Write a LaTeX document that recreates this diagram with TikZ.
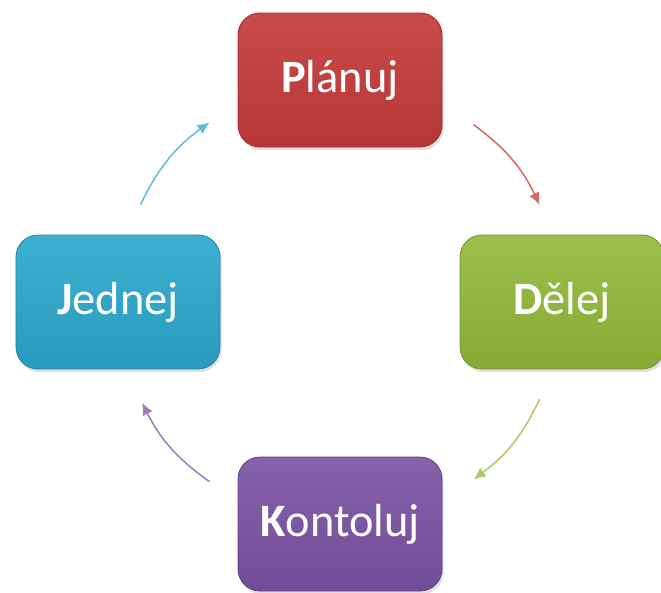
\documentclass[tikz,border=0pt]{standalone}
\usepackage{fontspec}
\setmainfont{Carlito}
\usetikzlibrary{shapes, arrows, arrows.meta, positioning, shadows}

\definecolor{pred}{RGB}{198,58,58}
\definecolor{pgreen}{RGB}{146,186,58}
\definecolor{ppurple}{RGB}{124,84,164}
\definecolor{pcyan}{RGB}{44,168,204}

\tikzset{
	krok/.style={rounded corners=0.55cm, minimum width=5.1cm, minimum height=3.35cm,
		text=white, draw=#1!80!black, line width=0.6pt,
		top color=#1!92!white, bottom color=#1!92!black,
		drop shadow={shadow xshift=0.04cm, shadow yshift=-0.08cm, opacity=0.25}},
	sipka/.style={->, draw=#1!75!white, line width=1.1pt}
}

\begin{document}
\begin{tikzpicture}[font=\fontsize{33}{38}\selectfont, >={Latex[length=3mm, width=2.8mm]}]
	\useasboundingbox (-8.5,7.55) rectangle (8.025,-7.25);
	% four boxes on a circle
	\foreach \A/\C/\T in { 90/pred/{\textbf{P}lánuj},
						    0/pgreen/{\textbf{D}ělej},
						  270/ppurple/{\textbf{K}ontoluj},
						  180/pcyan/{\textbf{J}ednej}
		} {
		\node[krok=\C](krok\A) at (\A:5.55cm) {\T};
		}
	% arrow ends
	\coordinate (c1) at (154:5.55cm);
	\coordinate (c2) at (126:5.55cm);
	\coordinate (r1) at (53:5.55cm);
	\coordinate (r2) at (26:5.55cm);
	\coordinate (g1) at (-26:5.55cm);
	\coordinate (g2) at (-53:5.55cm);
	\coordinate (p1) at (234:5.55cm);
	\coordinate (p2) at (207:5.55cm);
	% arrows, dumb way
	\draw[sipka=pcyan] (c1) to[bend left=14] (c2);
	\draw[sipka=pred] (r1) to[bend left=14] (r2);
	\draw[sipka=pgreen] (g1) to[bend left=14] (g2);
	\draw[sipka=ppurple] (p1) to[bend left=14] (p2);
\end{tikzpicture}
\end{document}
